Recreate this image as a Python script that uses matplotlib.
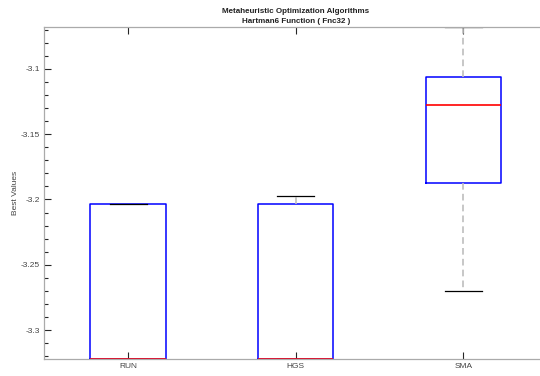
import numpy as np
from matplotlib import pyplot as plt
from matplotlib.ticker import MultipleLocator

plt.rcParams['font.family'] = ['Liberation Sans', 'DejaVu Sans']

# best values per algorithm, summarised as box statistics
algorithms = ["RUN", "HGS", "SMA"]
medians = [-3.3224, -3.3224, -3.1279]
q1 = [-3.3224, -3.3224, -3.1870]
q3 = [-3.2032, -3.2032, -3.1059]
whisker_low = [-3.3224, -3.3224, -3.2701]
whisker_high = [-3.2032, -3.1975, -3.0680]

stats = []
for name, med, lo, hi, wlo, whi in zip(algorithms, medians, q1, q3, whisker_low, whisker_high):
    stats.append(dict(label=name, med=med, q1=lo, q3=hi, whislo=wlo, whishi=whi, fliers=[]))

fig = plt.figure(figsize=(5.4, 3.76), dpi=100)
ax = fig.add_axes([0.082, 0.0445, 0.931, 0.884])

ax.bxp(stats, positions=[1, 2, 3], widths=0.45, showfliers=False,
       boxprops=dict(color="#0000ff", linewidth=1.1),
       medianprops=dict(color="#ff0000", linewidth=1.2),
       whiskerprops=dict(color="#bdbdbd", linewidth=1.2, linestyle=(0, (4, 2.5))),
       capprops=dict(color="#000000", linewidth=0.9),
       capwidths=0.22)

ax.set_xlim(0.5, 3.5)
ax.set_ylim(-3.3224, -3.0678)
ax.yaxis.set_major_locator(MultipleLocator(0.05))
ax.yaxis.set_minor_locator(MultipleLocator(0.01))
ax.set_yticks([-3.3, -3.25, -3.2, -3.15, -3.1])
ax.set_yticklabels(["-3.3", "-3.25", "-3.2", "-3.15", "-3.1"])
ax.set_xticks([1, 2, 3])
ax.set_xticklabels(algorithms)

ax.tick_params(axis="both", which="both", direction="in", labelsize=6,
               colors="#262626", labelcolor="#444444")
ax.tick_params(axis="x", top=True, length=5, width=0.8, pad=3)
ax.tick_params(axis="y", which="major", length=5, width=0.8, pad=3)
ax.tick_params(axis="y", which="minor", length=3, width=0.8)
for side in ax.spines.values():
    side.set_color("#aaaaaa")
    side.set_linewidth(0.9)

ax.set_ylabel("Best Values", fontsize=6, color="#444444", labelpad=1)
ax.set_title("Metaheuristic Optimization Algorithms\nHartman6 Function ( Fnc32 )",
             fontsize=5.8, fontweight="bold", color="#222222", pad=3, linespacing=1.6)

fig.savefig("out.png", dpi=100)
